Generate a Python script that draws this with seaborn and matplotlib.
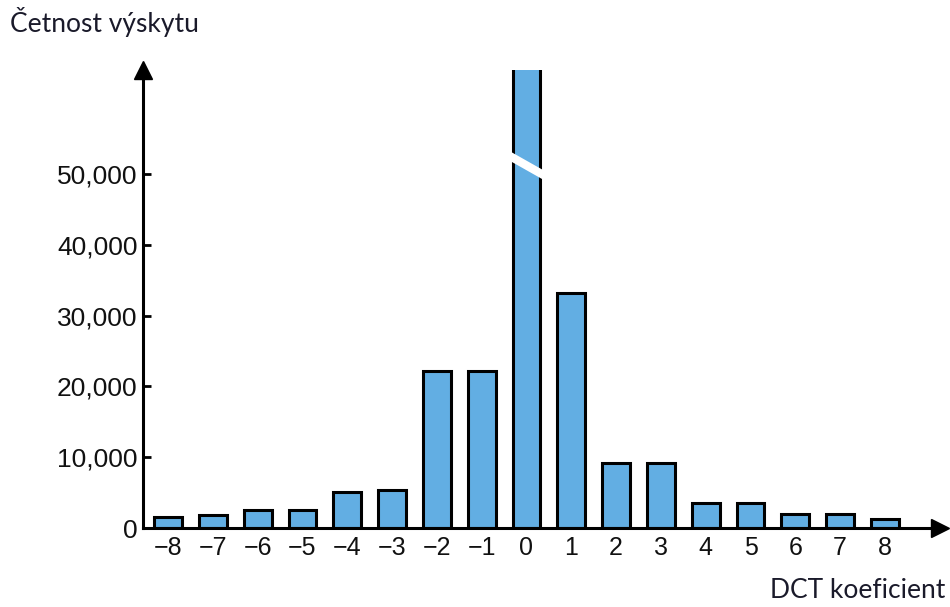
import seaborn as sns
import pandas as pd
import matplotlib.pyplot as plt

# DCT coefficient histogram
koeficienty = [-8, -7, -6, -5, -4, -3, -2, -1, 0, 1, 2, 3, 4, 5, 6, 7, 8]
cetnosti = [1550, 1800, 2500, 2500, 5100, 5400, 22200, 22200, 68000,
            33200, 9200, 9200, 3500, 3500, 2000, 2000, 1300]
x_labels = ["\u22128", "\u22127", "\u22126", "\u22125", "\u22124", "\u22123", "\u22122", "\u22121",
            "0", "1", "2", "3", "4", "5", "6", "7", "8"]
y_ticks = [0, 10000, 20000, 30000, 40000, 50000]
y_labels = ["0", "10,000", "20,000", "30,000", "40,000", "50,000"]

df = pd.DataFrame({"koef": koeficienty, "cetnost": cetnosti})

sns.set_style("white")
plt.rcParams["font.family"] = ["Liberation Sans", "DejaVu Sans"]

fig = plt.figure(figsize=(9.5, 6.07), dpi=100)
ax = fig.add_axes([0.1505, 0.130, 0.839, 0.755])

sns.barplot(data=df, x="koef", y="cetnost", native_scale=True, width=0.62,
            color="#62aee3", saturation=1, edgecolor="black", linewidth=2.2, ax=ax)

# the zero bar runs off the top of the axis (open top)
ax.set_xlim(-8.56, 9.23)
ax.set_ylim(0, 64700)

# break mark on the tallest bar
ax.plot([-0.42, 0.42], [52700, 49700], color="white", lw=6, solid_capstyle="butt", zorder=5)

for s in ["top", "right"]:
    ax.spines[s].set_visible(False)
for s in ["left", "bottom"]:
    ax.spines[s].set_linewidth(2.2)
    ax.spines[s].set_color("black")

# arrows at the axis ends
ax.plot(1, 0, ">", color="black", markersize=13, transform=ax.transAxes, clip_on=False)
ax.plot(0, 1.0, "^", color="black", markersize=13, transform=ax.transAxes, clip_on=False)

ax.set_xticks(koeficienty)
ax.set_xticklabels(x_labels, fontsize=18)
ax.set_yticks(y_ticks)
ax.set_yticklabels(y_labels, fontsize=19)
ax.tick_params(axis="x", length=0, pad=6, labelcolor="#111111")
ax.tick_params(axis="y", direction="in", length=6, width=2, pad=4, left=True,
               color="black", labelcolor="#111111")
ax.set_xlabel("")
ax.set_ylabel("")

fig.text(0.0105, 0.964, "Četnost výskytu", fontsize=19, family="Lato",
         color="#1a1a2a", va="center", ha="left")
fig.text(0.995, 0.028, "DCT koeficient", fontsize=19, family="Lato",
         color="#1a1a2a", va="center", ha="right")

fig.savefig("out.png", dpi=100)
